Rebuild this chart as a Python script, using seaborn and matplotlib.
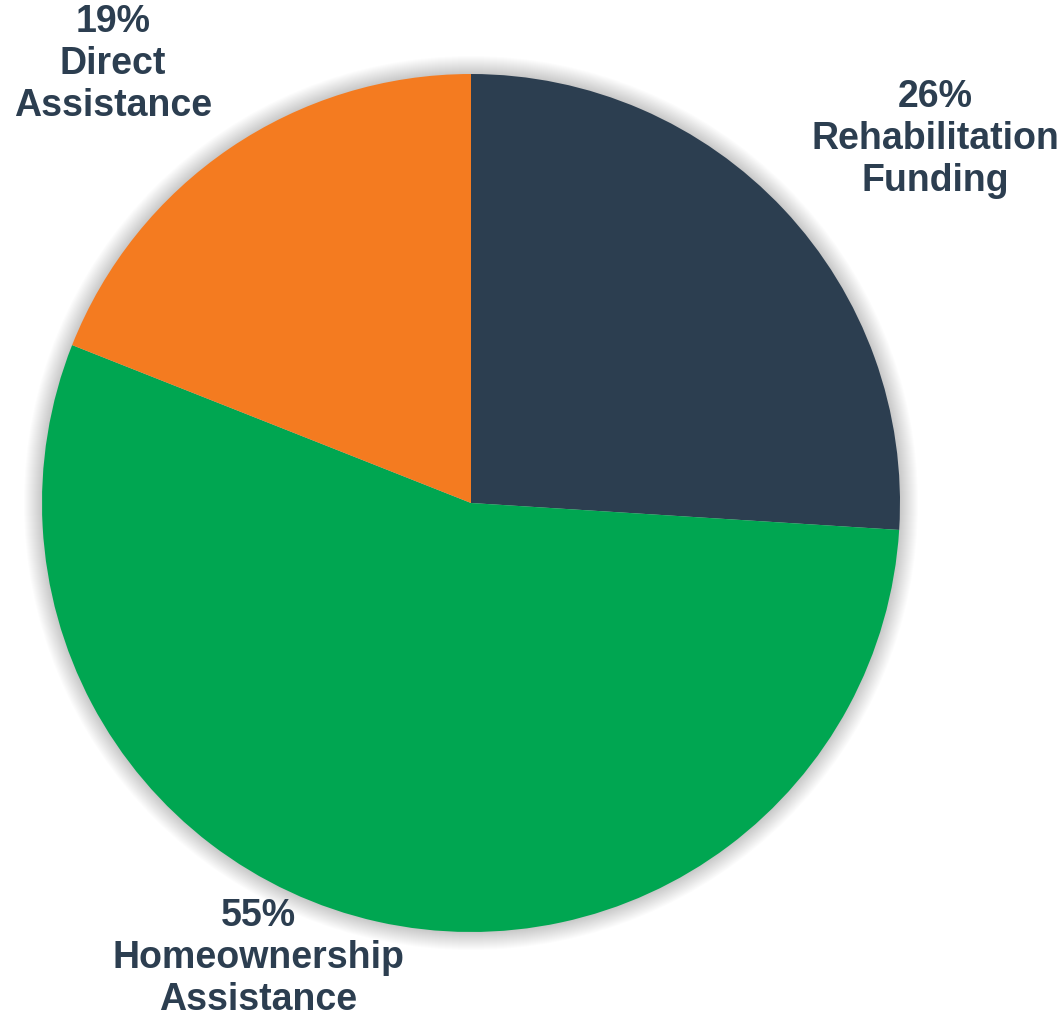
import matplotlib
matplotlib.use("Agg")
import matplotlib.pyplot as plt
from matplotlib.patches import Circle
import seaborn as sns

# Share of funding by program
categories = ["Rehabilitation\nFunding", "Homeownership\nAssistance", "Direct\nAssistance"]
shares = [26, 55, 19]
colors = ["#2C3E50", "#00A651", "#F47B20"]

sns.set_theme(style="white")
plt.rcParams["font.family"] = ["Liberation Sans", "DejaVu Sans"]

W, H = 1063, 1016
fig = plt.figure(figsize=(W / 100, H / 100), dpi=100)
ax = fig.add_axes([0, 0, 1, 1])

cx, cy, r = 471, H - 503, 429

# soft glow around the pie
for i in range(18, 0, -1):
    ax.add_patch(Circle((cx, cy), r + i, color="black", alpha=0.011, lw=0, zorder=0))

ax.pie(shares, colors=colors, startangle=90, counterclock=False,
       center=(cx, cy), radius=r, frame=True,
       wedgeprops=dict(linewidth=0, edgecolor="none"))
ax.set_xlim(0, W)
ax.set_ylim(0, H)
ax.set_aspect("equal")
ax.axis("off")

label_pos = [(935, H - 139), (258, H - 958), (113, H - 64)]
text_color = "#2C3E50"
for cat, val, (x, y) in zip(categories, shares, label_pos):
    ax.text(x, y, f"{val}%\n{cat}", ha="center", va="center", fontsize=27,
            fontweight="bold", color=text_color, linespacing=1.2, zorder=5)

fig.savefig("out.png", dpi=100, facecolor="white")
